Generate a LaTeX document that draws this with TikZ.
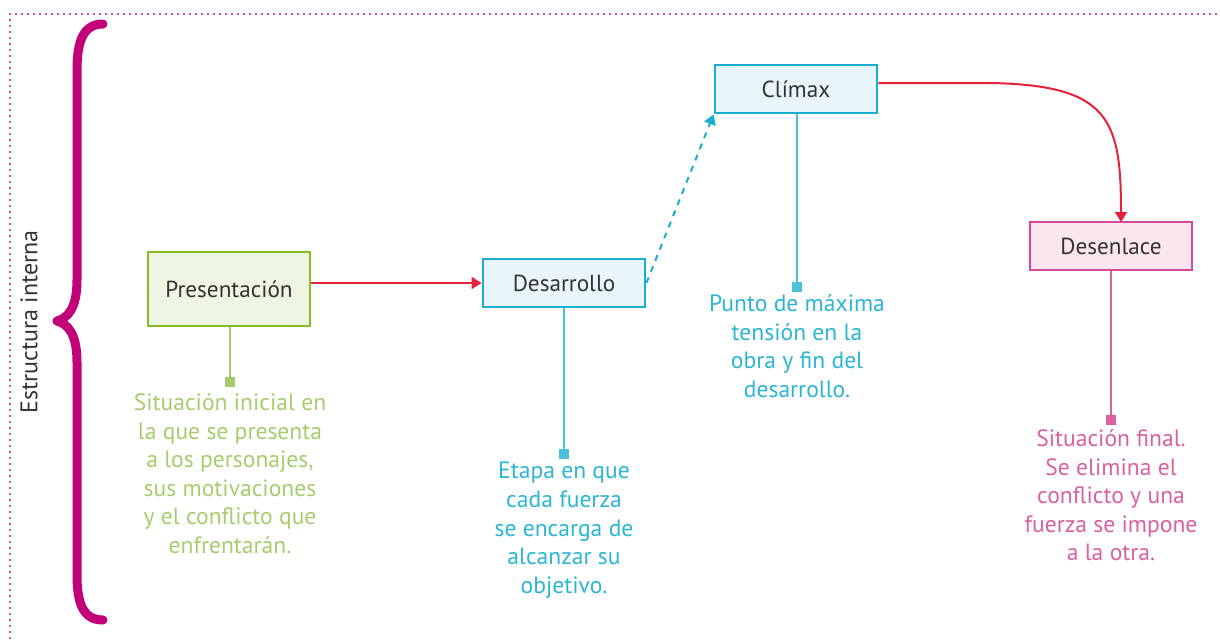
\documentclass[tikz,border=0pt]{standalone}
\usepackage{fontspec}
\setmainfont{PT Sans}
\usetikzlibrary{arrows.meta}
\usetikzlibrary{positioning}
\definecolor{framepink}{HTML}{D9479B}
\definecolor{bracemag}{HTML}{C2007A}
\definecolor{redline}{HTML}{E5223A}
\definecolor{greenbd}{HTML}{86BC25}
\definecolor{greenfill}{HTML}{EEF5E3}
\definecolor{greentxt}{HTML}{A6CD6D}
\definecolor{bluebd}{HTML}{1AAFCF}
\definecolor{bluefill}{HTML}{E8F5FA}
\definecolor{bluetxt}{HTML}{2BB6D4}
\definecolor{pinkbd}{HTML}{D24C9B}
\definecolor{pinkfill}{HTML}{FBE6EF}
\definecolor{pinktxt}{HTML}{D9619F}
\definecolor{boxtxt}{HTML}{333333}
\tikzset{
    stage/.style={
        draw,
        rectangle,
        line width=1.4pt,
        minimum width=81pt,
        minimum height=24pt,
        inner sep=2pt,
        text=boxtxt,
        font=\fontsize{11.6}{13}\selectfont
    },
    note/.style={
        anchor=north,
        align=center,
        inner sep=0pt,
        font=\fontsize{11.8}{14.3}\selectfont
    },
    stem/.style={
        line width=1pt
    },
    dot/.style={
        rectangle,
        minimum size=5pt,
        inner sep=0pt
    },
    redarrow/.style={
        draw=redline,
        line width=1pt,
        -{Triangle[length=5pt, width=6pt]}
    }
}

\begin{document}
\begin{tikzpicture}[x=0.5pt, y=-0.5pt]
    \useasboundingbox (0,0) rectangle (1220,639);
    % Frame
    \draw[framepink, line width=1pt, dotted] (10,639) -- (10,14) -- (1220,14);
    % Brace and side title
    \draw[bracemag, line width=4.5pt, line cap=round, line join=round]
        (103,24) .. controls (84,24) and (77,40) .. (77,70) -- (77,280)
        .. controls (77,308) and (68,318) .. (57,321)
        .. controls (68,324) and (77,334) .. (77,362) -- (77,575)
        .. controls (77,605) and (84,620) .. (103,620);
    \node[rotate=90, text=boxtxt, font=\fontsize{12}{14}\selectfont] (title) at (29,322) {Estructura interna};

    % Stages
    \node[stage, draw=greenbd, fill=greenfill, minimum height=37pt] (pres) at (229,289) {Presentación};
    \node[stage, draw=bluebd, fill=bluefill] (desa) at (564,283) {Desarrollo};
    \node[stage, draw=bluebd, fill=bluefill] (clim) at (796,89) {Clímax};
    \node[stage, draw=pinkbd, fill=pinkfill] (dese) at (1111,246) {Desenlace};

    % Stems
    \node[dot, fill=greentxt] (pdot) at (230,382) {};
    \node[dot, fill=bluetxt!85] (ddot) at (564,454) {};
    \node[dot, fill=bluetxt!85] (cdot) at (797,287) {};
    \node[dot, fill=pinktxt] (edot) at (1111,420) {};
    \draw[stem, greentxt] (pres.south -| pdot) -- (pdot);
    \draw[stem, bluetxt!85] (desa.south -| ddot) -- (ddot);
    \draw[stem, bluetxt!85] (clim.south -| cdot) -- (cdot);
    \draw[stem, pinktxt] (dese.south -| edot) -- (edot);

    % Notes
    \node[note, text=greentxt] (pnote) at (230,393) {Situación inicial en\\la que se presenta\\a los personajes,\\sus motivaciones\\y el conflicto que\\enfrentarán.};
    \node[note, text=bluetxt] (dnote) at (564,462) {Etapa en que\\cada fuerza\\se encarga de\\alcanzar su\\objetivo.};
    \node[note, text=bluetxt] (cnote) at (797,294) {Punto de máxima\\tensión en la\\obra y fin del\\desarrollo.};
    \node[note, text=pinktxt] (enote) at (1111,429) {Situación final.\\Se elimina el\\conflicto y una\\fuerza se impone\\a la otra.};

    % Connectors
    \coordinate (dtop) at (1121,222);
    \draw[redarrow] (pres.east |- desa) -- (desa.west);
    \draw[bluebd, line width=1pt, dashed, -{Triangle[length=5pt, width=6pt]}] (desa.east) -- (clim.south west);
    \draw[redarrow] ([yshift=3pt]clim.east) -- (990,83) .. controls (1110,85) and (1121,120) .. (dtop);
\end{tikzpicture}
\end{document}
